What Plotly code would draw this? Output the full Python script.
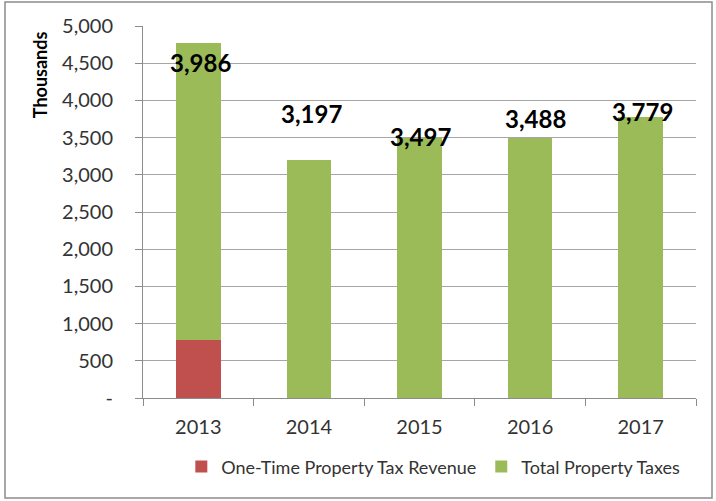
import plotly.graph_objects as go

years = ["2013", "2014", "2015", "2016", "2017"]
one_time = [780, 0, 0, 0, 0]
total_taxes = [3986, 3197, 3497, 3488, 3779]
label_texts = ["3,986", "3,197", "3,497", "3,488", "3,779"]
tick_vals = [0, 500, 1000, 1500, 2000, 2500, 3000, 3500, 4000, 4500, 5000]
tick_text = ["-", "500", "1,000", "1,500", "2,000", "2,500", "3,000", "3,500", "4,000", "4,500", "5,000"]

# pixel nudges for the value labels (relative to bar top)
label_yshift = [-19, 47, 1, 20, 5]
label_xshift = [2, 3, 1, 5, 2]

RED = "#C0504D"
GREEN = "#9BBB59"
FONT = "Lato"

fig = go.Figure()
fig.add_trace(go.Bar(x=years, y=one_time, name="One-Time Property Tax Revenue",
                     marker=dict(color=RED, line=dict(width=0))))
fig.add_trace(go.Bar(x=years, y=total_taxes, name="Total Property Taxes",
                     marker=dict(color=GREEN, line=dict(width=0))))

annotations = []
for i, yr in enumerate(years):
    annotations.append(dict(
        x=i, y=one_time[i] + total_taxes[i], xref="x", yref="y",
        text=label_texts[i], showarrow=False,
        font=dict(family=FONT, size=24, color="#000000", weight="bold"),
        yanchor="middle", xanchor="center",
        yshift=label_yshift[i], xshift=label_xshift[i]))

annotations.append(dict(
    x=-0.186, y=0.868, xref="paper", yref="paper", text="<b>Thousands</b>",
    textangle=-90, showarrow=False, xanchor="center", yanchor="middle",
    font=dict(family=FONT, size=18, color="#000000")))

fig.update_layout(
    width=716, height=501,
    margin=dict(l=143, r=20, t=26, b=103),
    barmode="stack", bargap=0.597,
    plot_bgcolor="white", paper_bgcolor="white",
    font=dict(family=FONT, size=19, color="#333333"),
    showlegend=True,
    legend=dict(orientation="h", x=0.525, y=-0.185, xanchor="center", yanchor="middle",
                font=dict(family=FONT, size=18, color="#333333"),
                traceorder="normal"),
    annotations=annotations,
    shapes=[dict(type="rect", xref="paper", yref="paper",
                 x0=(5 - 143) / 553, x1=(712 - 143) / 553,
                 y0=(398 - 498) / 372, y1=(398 - 2) / 372,
                 line=dict(color="#8c8c8c", width=1.5), layer="below")],
)
fig.update_xaxes(type="category", range=[-0.5, 4.5], showline=True,
                 linecolor="#8c8c8c", linewidth=1,
                 ticks="outside", tickson="boundaries", ticklen=7, tickcolor="#8c8c8c",
                 ticklabelstandoff=11,
                 showgrid=False, tickfont=dict(family=FONT, size=20, color="#333333"))
fig.update_yaxes(range=[0, 5000], tickvals=tick_vals, ticktext=tick_text,
                 showline=True, linecolor="#8c8c8c", linewidth=1,
                 ticks="outside", ticklen=7, tickcolor="#8c8c8c",
                 ticklabelstandoff=18,
                 showgrid=True, gridcolor="#a6a6a6", gridwidth=1,
                 zeroline=False,
                 tickfont=dict(family=FONT, size=20, color="#333333"))

fig.write_html("out.html", config={"displayModeBar": False},
               post_script="document.body.style.margin='0';")
